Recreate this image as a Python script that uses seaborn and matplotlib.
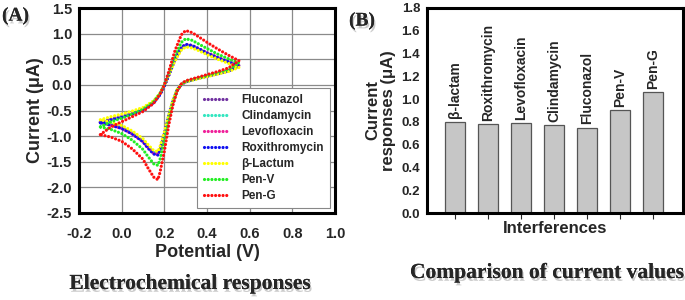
import pandas as pd
import matplotlib.pyplot as plt
import matplotlib.patheffects as pe
import seaborn as sns

# ---- data: cyclic voltammograms (panel A) ----
x_fwd = [-0.10, -0.05, 0.00, 0.05, 0.10, 0.15, 0.18, 0.20, 0.22, 0.25, 0.28, 0.30, 0.33, 0.36, 0.40, 0.45, 0.50, 0.55]
x_rev = [0.55, 0.50, 0.45, 0.40, 0.35, 0.30, 0.28, 0.26, 0.24, 0.22, 0.20, 0.18, 0.17, 0.15, 0.12, 0.10, 0.05, 0.00, -0.05, -0.10]

fluconazol_fwd = [-0.73, -0.67, -0.62, -0.56, -0.48, -0.34, -0.18, -0.02, 0.18, 0.50, 0.72, 0.78, 0.76, 0.70, 0.62, 0.53, 0.45, 0.38]
fluconazol_rev = [0.38, 0.27, 0.22, 0.17, 0.12, 0.06, 0.01, -0.10, -0.32, -0.62, -0.95, -1.25, -1.35, -1.33, -1.20, -1.10, -0.95, -0.84, -0.78, -0.73]
clindamycin_fwd = [-0.72, -0.66, -0.61, -0.55, -0.47, -0.33, -0.17, -0.01, 0.19, 0.50, 0.71, 0.77, 0.75, 0.69, 0.61, 0.52, 0.44, 0.37]
clindamycin_rev = [0.37, 0.27, 0.22, 0.17, 0.12, 0.06, 0.01, -0.10, -0.32, -0.62, -0.95, -1.24, -1.34, -1.32, -1.19, -1.09, -0.94, -0.83, -0.77, -0.72]
levofloxacin_fwd = [-0.73, -0.67, -0.62, -0.56, -0.48, -0.34, -0.18, -0.02, 0.18, 0.50, 0.73, 0.79, 0.77, 0.71, 0.63, 0.54, 0.45, 0.38]
levofloxacin_rev = [0.38, 0.27, 0.22, 0.17, 0.12, 0.06, 0.01, -0.10, -0.33, -0.63, -0.96, -1.26, -1.36, -1.34, -1.21, -1.11, -0.96, -0.85, -0.79, -0.73]
roxithromycin_fwd = [-0.74, -0.68, -0.63, -0.57, -0.49, -0.35, -0.19, -0.02, 0.18, 0.51, 0.73, 0.79, 0.77, 0.71, 0.62, 0.53, 0.45, 0.37]
roxithromycin_rev = [0.37, 0.27, 0.22, 0.17, 0.12, 0.06, 0.01, -0.10, -0.33, -0.63, -0.97, -1.27, -1.37, -1.35, -1.22, -1.11, -0.96, -0.85, -0.79, -0.74]
blactum_fwd = [-0.68, -0.62, -0.57, -0.51, -0.44, -0.31, -0.16, 0.00, 0.19, 0.47, 0.68, 0.74, 0.72, 0.67, 0.59, 0.50, 0.42, 0.34]
blactum_rev = [0.34, 0.26, 0.21, 0.16, 0.11, 0.06, 0.01, -0.09, -0.30, -0.60, -0.92, -1.20, -1.30, -1.28, -1.15, -1.05, -0.90, -0.79, -0.73, -0.68]
penv_fwd = [-0.82, -0.72, -0.65, -0.57, -0.48, -0.33, -0.17, 0.00, 0.22, 0.57, 0.83, 0.90, 0.87, 0.80, 0.71, 0.60, 0.51, 0.43]
penv_rev = [0.43, 0.30, 0.24, 0.18, 0.13, 0.07, 0.01, -0.11, -0.36, -0.70, -1.10, -1.45, -1.57, -1.54, -1.38, -1.26, -1.08, -0.95, -0.87, -0.82]
peng_fwd = [-0.97, -0.82, -0.72, -0.62, -0.52, -0.36, -0.18, 0.00, 0.25, 0.67, 0.98, 1.06, 1.02, 0.94, 0.83, 0.70, 0.58, 0.47]
peng_rev = [0.47, 0.33, 0.26, 0.20, 0.14, 0.08, 0.02, -0.12, -0.40, -0.80, -1.30, -1.70, -1.85, -1.80, -1.60, -1.45, -1.25, -1.10, -1.02, -0.97]

cv_names = ['Fluconazol', 'Clindamycin', 'Levofloxacin', 'Roxithromycin', 'β-Lactum', 'Pen-V', 'Pen-G']
cv_colors = ['#7030A0', '#33E6C0', '#F0209A', '#1010F0', '#FFFF00', '#22EE22', '#FF1010']
cv_curves = [(fluconazol_fwd, fluconazol_rev), (clindamycin_fwd, clindamycin_rev),
             (levofloxacin_fwd, levofloxacin_rev), (roxithromycin_fwd, roxithromycin_rev),
             (blactum_fwd, blactum_rev), (penv_fwd, penv_rev), (peng_fwd, peng_rev)]

# ---- data: bar chart (panel B) ----
bar_names = ['β-lactam', 'Roxithromycin', 'Levofloxacin', 'Clindamycin', 'Fluconazol', 'Pen-V', 'Pen-G']
bar_values = [0.80, 0.78, 0.79, 0.77, 0.75, 0.90, 1.06]

sns.set_style('white')
plt.rcParams['font.family'] = ['Liberation Sans', 'DejaVu Sans']
plt.rcParams['font.weight'] = 'bold'

fig = plt.figure(figsize=(6.85, 3.0), dpi=100)
axA = fig.add_axes([79/685, 87/300, 256/685, 205/300])
axB = fig.add_axes([427/685, 87/300, 256/685, 205/300])

# panel A
for name, col, (fwd, rev) in zip(cv_names, cv_colors, cv_curves):
    df = pd.DataFrame({'E': x_fwd + x_rev, 'I': fwd + rev})
    sns.lineplot(data=df, x='E', y='I', sort=False, estimator=None, ax=axA,
                 color=col, lw=2.3, linestyle=(0, (0.01, 1.15)),
                 dash_capstyle='round', label=name)

axA.set_xlim(-0.2, 1.0)
axA.set_ylim(-2.5, 1.5)
axA.set_xticks([-0.2, 0.0, 0.2, 0.4, 0.6, 0.8, 1.0])
axA.set_yticks([-2.5, -2.0, -1.5, -1.0, -0.5, 0.0, 0.5, 1.0, 1.5])
axA.xaxis.set_major_formatter(plt.FormatStrFormatter('%.1f'))
axA.yaxis.set_major_formatter(plt.FormatStrFormatter('%.1f'))
axA.grid(True, color='#8a8a8a', lw=0.9)
axA.tick_params(axis='x', length=0, labelsize=10.5, pad=10)
axA.tick_params(axis='y', length=0, labelsize=10.5, pad=5)
axA.set_xlabel('Potential (V)', fontsize=13, fontweight='bold', labelpad=2)
axA.set_ylabel('Current (μA)', fontsize=13, fontweight='bold', labelpad=2)
for s in axA.spines.values():
    s.set_linewidth(2.2)
    s.set_color('black')
leg = axA.legend(loc='lower right', fontsize=8.5, frameon=True, fancybox=False,
                 edgecolor='#888888', framealpha=1, handlelength=2.2,
                 handletextpad=1.0, labelspacing=0.33, borderaxespad=0.4,
                 borderpad=0.55)
leg.get_frame().set_linewidth(0.8)
for t in leg.get_texts():
    t.set_fontweight('bold')

# panel B
sns.barplot(x=bar_names, y=bar_values, color='#c6c6c6', edgecolor='#555555',
            linewidth=0.9, width=0.6, saturation=1, ax=axB)
for i, (n, v) in enumerate(zip(bar_names, bar_values)):
    axB.text(i, v + 0.03, n, rotation=90, ha='center', va='bottom',
             fontsize=10, fontweight='bold')
axB.set_xlim(-0.85, 6.9)
axB.set_ylim(0, 1.8)
axB.set_yticks([0.0, 0.2, 0.4, 0.6, 0.8, 1.0, 1.2, 1.4, 1.6, 1.8])
axB.yaxis.set_major_formatter(plt.FormatStrFormatter('%.1f'))
axB.set_xticklabels([])
axB.tick_params(axis='x', bottom=True, length=4, width=0.8, direction='out', pad=0)
axB.tick_params(axis='y', length=0, labelsize=9.5, pad=5)
axB.set_xlabel('Interferences', fontsize=12, fontweight='bold', labelpad=2)
axB.set_ylabel('Current\nresponses (μA)', fontsize=12, fontweight='bold',
               labelpad=4, linespacing=1.0)
for s in axB.spines.values():
    s.set_linewidth(2.2)
    s.set_color('black')

# panel tags and captions
serif = ['Liberation Serif', 'DejaVu Serif']
shadow = [pe.withSimplePatchShadow(offset=(1, -2), shadow_rgbFace='#999999', alpha=0.5), pe.Normal()]
fig.text(2/685, 1 - 16/300, '(A)', family=serif, fontsize=14, fontweight='bold',
         va='center', ha='left', path_effects=shadow)
fig.text(349/685, 1 - 21/300, '(B)', family=serif, fontsize=14, fontweight='bold',
         va='center', ha='left', path_effects=shadow)
fig.text(190/685, 1 - 284/300, 'Electrochemical responses', family=serif,
         fontsize=15.5, fontweight='bold', ha='center', va='center', path_effects=shadow)
fig.text(547/685, 1 - 273/300, 'Comparison of current values', family=serif,
         fontsize=15.5, fontweight='bold', ha='center', va='center', path_effects=shadow)

fig.savefig('out.png', dpi=100)
